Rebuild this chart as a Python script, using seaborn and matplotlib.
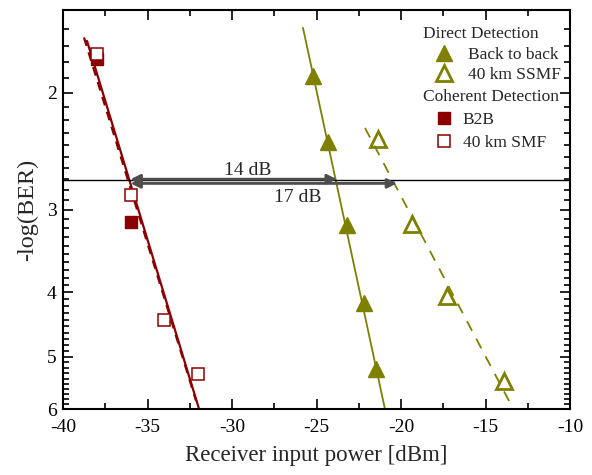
import numpy as np
import pandas as pd
import matplotlib
matplotlib.use("Agg")
import matplotlib.pyplot as plt
import seaborn as sns
from matplotlib.lines import Line2D
from matplotlib.ticker import FixedLocator, NullFormatter, FixedFormatter

# ---- data ----
dd_b2b_x = [-25.2, -24.3, -23.2, -22.2, -21.5]
dd_b2b_y = [1.885, 2.37, 3.17, 4.15, 5.23]
dd_ssmf_x = [-21.36, -19.35, -17.28, -13.9]
dd_ssmf_y = [2.35, 3.15, 4.05, 5.44]
cd_b2b_x = [-38.0, -36.0]
cd_b2b_y = [1.78, 3.13]
cd_smf_x = [-38.0, -36.0, -34.0, -32.0]
cd_smf_y = [1.75, 2.85, 4.40, 5.31]

# fitted lines (end points)
fit_dd_b2b_x = [-25.8, -20.95]
fit_dd_b2b_y = [1.596, 6.0]
fit_dd_ssmf_x = [-22.13, -13.49]
fit_dd_ssmf_y = [2.26, 5.91]
fit_cd_b2b_x = [-38.58, -31.95]
fit_cd_b2b_y = [1.67, 6.0]
fit_cd_smf_x = [-38.76, -32.13]
fit_cd_smf_y = [1.65, 5.83]

ref_level = 2.71
arrow14_x = [-36.0, -23.8]
arrow14_y = 2.70
arrow17_x = [-36.0, -20.24]
arrow17_y = 2.74

yticks = [2, 3, 4, 5, 6]
xticks = [-40, -35, -30, -25, -20, -15, -10]

OLIVE = "#808000"
DRED = "#8b0000"

sns.set_theme(style="ticks")
plt.rcParams["font.family"] = ["Liberation Serif", "DejaVu Serif"]

fig = plt.figure(figsize=(5.92, 4.75), dpi=100)
ax = fig.add_axes([63/592, 1-409/475, 507/592, 399/475])

ax.set_yscale("log")

# fitted lines
sns.lineplot(x=fit_cd_b2b_x, y=fit_cd_b2b_y, ax=ax, color=DRED, lw=1.6, sort=False)
sns.lineplot(x=fit_cd_smf_x, y=fit_cd_smf_y, ax=ax, color=DRED, lw=1.6, sort=False,
             linestyle=(0, (4, 3)))
sns.lineplot(x=fit_dd_b2b_x, y=fit_dd_b2b_y, ax=ax, color=OLIVE, lw=1.3, sort=False)
sns.lineplot(x=fit_dd_ssmf_x, y=fit_dd_ssmf_y, ax=ax, color=OLIVE, lw=1.3, sort=False,
             linestyle=(0, (6, 5)))

# markers
ax.plot(cd_b2b_x, cd_b2b_y, ls="none", marker="s", ms=8.5, color=DRED, mec=DRED)
ax.plot(cd_smf_x, cd_smf_y, ls="none", marker="s", ms=9, mfc="white", mec=DRED, mew=1.1)
ax.plot(dd_b2b_x, dd_b2b_y, ls="none", marker="^", ms=12, color=OLIVE)
ax.plot(dd_ssmf_x, dd_ssmf_y, ls="none", marker="^", ms=11, mfc="none", mec=OLIVE, mew=2)

# reference level and arrows
ax.axhline(ref_level, color="black", lw=1.0)
ap = dict(arrowstyle="<|-|>", color="0.3", lw=2.0, mutation_scale=14, shrinkA=0, shrinkB=0)
ax.annotate("", xy=(arrow14_x[0], arrow14_y), xytext=(arrow14_x[1], arrow14_y), arrowprops=ap)
ax.annotate("", xy=(arrow17_x[0], arrow17_y), xytext=(arrow17_x[1], arrow17_y), arrowprops=ap)
ax.text(-29.05, 2.62, "14 dB", ha="center", va="center", fontsize=14)
ax.text(-26.1, 2.88, "17 dB", ha="center", va="center", fontsize=14)

ax.set_xlim(-40, -10)
ax.set_ylim(6, 1.5)
ax.yaxis.set_major_locator(FixedLocator(yticks))
ax.yaxis.set_major_formatter(FixedFormatter([str(t) for t in yticks]))
ax.yaxis.set_minor_locator(FixedLocator(np.round(np.arange(1.5, 6.0, 0.1), 2)))
ax.yaxis.set_minor_formatter(NullFormatter())
ax.set_xticks(xticks)
ax.set_xticklabels([str(t) for t in xticks])
ax.set_xticks(np.arange(-37.5, -10, 5), minor=True)

ax.tick_params(which="both", direction="in", top=True, right=True, colors="black",
               labelsize=14, width=1.2)
ax.tick_params(which="major", length=7)
ax.tick_params(which="minor", length=4)
ax.tick_params(axis="x", which="major", pad=7)
ax.tick_params(axis="y", which="major", pad=4.5)
for s in ax.spines.values():
    s.set_color("black")
    s.set_linewidth(1.5)

ax.set_xlabel("Receiver input power [dBm]", fontsize=16.5, labelpad=7)
ax.set_ylabel("-log(BER)", fontsize=17.5, labelpad=6)

# legends
h1 = [Line2D([], [], ls="none", marker="^", ms=12, color=OLIVE),
      Line2D([], [], ls="none", marker="^", ms=11, mfc="none", mec=OLIVE, mew=2)]
leg1 = ax.legend(h1, ["Back to back", "40 km SSMF"], title="Direct Detection",
                 loc="upper left", bbox_to_anchor=(0.69, 0.985), frameon=False,
                 fontsize=12.5, title_fontsize=12.5, alignment="left",
                 handlelength=2.4, handletextpad=0.17, borderpad=0.1, labelspacing=0.25)
ax.add_artist(leg1)
h2 = [Line2D([], [], ls="none", marker="s", ms=8, color=DRED),
      Line2D([], [], ls="none", marker="s", ms=8, mfc="white", mec=DRED, mew=1.1)]
leg2 = ax.legend(h2, ["B2B", "40 km SMF"], title="Coherent Detection",
                 loc="upper left", bbox_to_anchor=(0.69, 0.8275), frameon=False,
                 fontsize=12.5, title_fontsize=12.5, alignment="left",
                 handlelength=2.4, handletextpad=-0.12, borderpad=0.1, labelspacing=0.4)

fig.savefig("out.png", dpi=100)
